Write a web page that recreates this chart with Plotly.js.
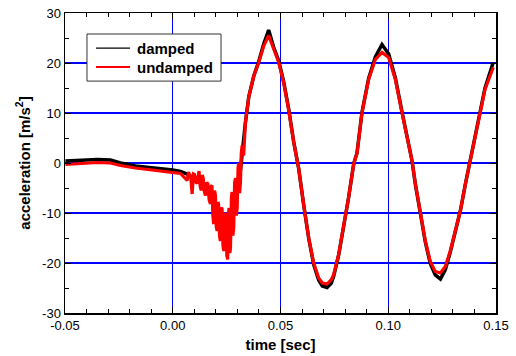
<!DOCTYPE html>
<html>
<head>
<meta charset="utf-8">
<script src="https://cdn.plot.ly/plotly-3.0.1.min.js"></script>
<style>html,body{margin:0;padding:0;background:#fff;}#chart{width:516px;height:356px;}</style>
</head>
<body>
<div id="chart"></div>
<script>
// damped (black)
const timeDamped = [-0.0498,-0.0428,-0.0349,-0.0289,-0.0243,-0.0173,-0.0099,-0.0034,0.0,0.0036,0.0067,0.0090,0.0113,0.0132,0.0152,0.0175,0.0190,0.0206,0.0221,0.0237,0.0255,0.0268,0.0283,0.0299,0.0314,0.0337,0.0353,0.0376,0.0399,0.0422,0.0445,0.0468,0.0492,0.0515,0.0538,0.0561,0.0584,0.0608,0.0631,0.0654,0.0677,0.0694,0.0716,0.0736,0.0747,0.0770,0.0793,0.0816,0.0840,0.0855,0.0878,0.0909,0.0940,0.0971,0.1002,0.1033,0.1064,0.1087,0.1110,0.1126,0.1149,0.1172,0.1195,0.1218,0.1242,0.1265,0.1288,0.1311,0.1335,0.1358,0.1381,0.1418,0.1449,0.1487];
const accDamped = [0.4,0.5,0.7,0.6,0.0,-0.6,-0.9,-1.2,-1.4,-1.7,-2.2,-2.8,-3.0,-3.2,-4.8,-6.0,-8.0,-10.0,-12.0,-13.5,-14.5,-12.0,-8.5,-5.0,-1.5,8.0,13.3,17.4,20.3,23.8,26.6,23.2,20.4,16.2,10.8,4.3,-1.0,-8.5,-15.1,-20.3,-23.4,-24.6,-24.9,-24.0,-22.6,-18.4,-12.9,-6.9,-0.1,2.0,10.1,16.9,21.2,23.7,21.8,17.0,10.2,5.4,0.5,-4.3,-10.3,-15.8,-20.1,-22.4,-23.2,-21.3,-17.8,-13.7,-9.5,-4.2,0.5,8.8,15.0,20.1];

// undamped (red)
const timeUndamped = [-0.0498,-0.0428,-0.0349,-0.0289,-0.0243,-0.0173,-0.0099,-0.0034,0.0,0.0036,0.0067,0.0073,0.0078,0.0084,0.0090,0.0096,0.0101,0.0107,0.0113,0.0118,0.0122,0.0127,0.0132,0.0137,0.0142,0.0147,0.0152,0.0158,0.0163,0.0169,0.0175,0.0179,0.0182,0.0186,0.0190,0.0194,0.0198,0.0202,0.0206,0.0210,0.0213,0.0217,0.0221,0.0225,0.0229,0.0233,0.0237,0.0242,0.0246,0.0251,0.0255,0.0258,0.0261,0.0265,0.0268,0.0272,0.0275,0.0279,0.0283,0.0287,0.0291,0.0295,0.0299,0.0303,0.0306,0.0310,0.0314,0.0318,0.0322,0.0329,0.0337,0.0353,0.0376,0.0399,0.0422,0.0445,0.0468,0.0492,0.0515,0.0538,0.0561,0.0584,0.0608,0.0631,0.0654,0.0677,0.0694,0.0716,0.0736,0.0747,0.0770,0.0793,0.0816,0.0840,0.0855,0.0878,0.0909,0.0940,0.0971,0.1002,0.1033,0.1064,0.1087,0.1110,0.1126,0.1149,0.1172,0.1195,0.1218,0.1242,0.1265,0.1288,0.1311,0.1335,0.1358,0.1381,0.1418,0.1449,0.1487];
const accUndamped = [-0.3,-0.1,0.1,0.0,-0.5,-1.0,-1.4,-1.7,-1.9,-2.1,-3.5,-1.8,-2.4,-3.0,-6.2,-2.2,-2.3,-3.8,-4.1,-2.0,-1.6,-4.6,-5.5,-2.4,-3.2,-5.8,-6.5,-3.9,-4.2,-7.4,-8.2,-4.6,-4.5,-10.5,-12.2,-5.5,-6.5,-12.8,-13.6,-7.8,-8.3,-14.6,-15.6,-8.9,-9.2,-16.5,-17.6,-10.0,-10.2,-18.5,-19.3,-10.5,-9.0,-18.0,-17.0,-7.2,-5.8,-14.5,-12.9,-4.0,-3.0,-10.5,-8.9,-1.0,0.0,-6.0,-4.1,2.0,3.5,1.5,8.0,13.3,17.4,20.1,23.4,25.5,22.8,20.1,16.0,10.6,4.2,-1.0,-8.5,-15.0,-20.0,-23.0,-24.0,-24.2,-23.3,-22.3,-18.3,-12.9,-6.9,-0.1,1.9,10.0,16.7,20.7,22.1,21.1,16.7,10.0,5.3,0.5,-4.2,-10.2,-15.6,-19.7,-21.7,-22.0,-20.7,-17.6,-13.6,-9.5,-4.2,0.5,8.6,14.7,19.1];

const seriesNames = ['damped', 'undamped'];
const seriesColors = ['#000000', '#ff0000'];
const xTickVals = [-0.05, 0.00, 0.05, 0.10, 0.15];
const xTickText = ['-0.05', '0.00', '0.05', '0.10', '0.15'];
const yTickVals = [-30, -20, -10, 0, 10, 20, 30];
const yTickText = ['-30', '-20', '-10', '0', '10', '20', '30'];

const FONT = 'Liberation Sans, Arial, sans-serif';

const traces = [
  {x: timeDamped, y: accDamped, name: seriesNames[0], mode: 'lines', type: 'scatter',
   line: {color: seriesColors[0], width: 3.5}, showlegend: false},
  {x: timeUndamped, y: accUndamped, name: seriesNames[1], mode: 'lines', type: 'scatter',
   line: {color: seriesColors[1], width: 3.2}, showlegend: false}
];

// plot area: x 65..496, y 13..313 (height 300)
const legRows = [0.883, 0.820];
const shapes = [
  {type: 'rect', xref: 'paper', yref: 'paper', x0: 0.051, x1: 0.362, y0: 0.773, y1: 0.930,
   line: {color: '#333333', width: 1}, fillcolor: '#ffffff', layer: 'above'},
  {type: 'line', xref: 'paper', yref: 'paper', x0: 0.072, x1: 0.151, y0: legRows[0], y1: legRows[0],
   line: {color: seriesColors[0], width: 1.3}, layer: 'above'},
  {type: 'line', xref: 'paper', yref: 'paper', x0: 0.072, x1: 0.151, y0: legRows[1], y1: legRows[1],
   line: {color: seriesColors[1], width: 2}, layer: 'above'}
];
const annotations = seriesNames.map((n, i) => ({
  text: n, xref: 'paper', yref: 'paper', x: 0.1624, y: legRows[i],
  xanchor: 'left', yanchor: 'middle', showarrow: false,
  font: {family: FONT, size: 15, color: '#000000', weight: 'bold'}
}));

const layout = {
  width: 516, height: 356,
  margin: {l: 65, r: 20, t: 13, b: 43},
  paper_bgcolor: '#ffffff', plot_bgcolor: '#ffffff',
  font: {family: FONT, color: '#000000'},
  showlegend: false,
  shapes: shapes,
  annotations: annotations,
  xaxis: {
    range: [-0.05, 0.15], tickmode: 'array', tickvals: xTickVals, ticktext: xTickText,
    showline: true, linecolor: '#000000', linewidth: 1.5, mirror: 'allticks',
    ticks: 'inside', ticklen: 6, tickwidth: 1, tickcolor: '#000000',
    showgrid: true, gridcolor: '#0000ff', gridwidth: 1, zeroline: false,
    tickfont: {family: FONT, size: 13, color: '#000000'},
    minor: {dtick: 0.01, ticks: 'inside', ticklen: 4, tickcolor: '#000000', showgrid: false},
    title: {text: 'time [sec]', font: {family: FONT, size: 15, weight: 'bold', color: '#000000'}, standoff: 7}
  },
  yaxis: {
    range: [-30, 30], tickmode: 'array', tickvals: yTickVals, ticktext: yTickText,
    showline: true, linecolor: '#000000', linewidth: 1.5, mirror: 'allticks',
    ticks: 'inside', ticklen: 6, tickwidth: 1, tickcolor: '#000000',
    showgrid: true, gridcolor: '#0000ff', gridwidth: 1.6, zeroline: false,
    tickfont: {family: FONT, size: 13, color: '#000000'},
    minor: {dtick: 5, ticks: 'inside', ticklen: 4, tickcolor: '#000000', showgrid: false},
    title: {text: 'acceleration [m/s<sup>2</sup>]', font: {family: FONT, size: 15, weight: 'bold', color: '#000000'}, standoff: 8}
  }
};

Plotly.newPlot('chart', traces, layout, {staticPlot: true, displayModeBar: false});
</script>
</body>
</html>
